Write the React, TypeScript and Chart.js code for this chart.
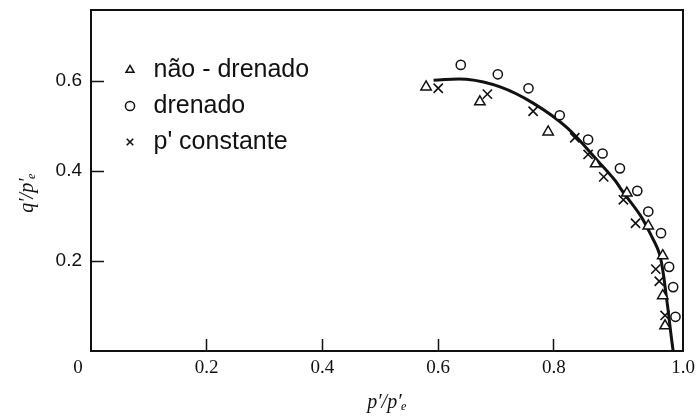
import React, { useEffect, useRef } from 'react';
import { Chart, registerables } from 'chart.js';

Chart.register(...registerables);

// não - drenado (triangles)
const undrainedX = [0.579, 0.672, 0.790, 0.872, 0.926, 0.963, 0.988, 0.988, 0.992];
const undrainedY = [0.587, 0.554, 0.487, 0.416, 0.351, 0.278, 0.212, 0.123, 0.056];
// drenado (circles)
const drainedX = [0.639, 0.703, 0.756, 0.810, 0.859, 0.884, 0.914, 0.944, 0.963, 0.985, 0.999, 1.006, 1.010];
const drainedY = [0.636, 0.615, 0.584, 0.524, 0.470, 0.439, 0.406, 0.356, 0.310, 0.262, 0.187, 0.142, 0.076];
// p' constante (crosses)
const constPX = [0.600, 0.685, 0.764, 0.836, 0.859, 0.886, 0.920, 0.941, 0.976, 0.982, 0.992];
const constPY = [0.584, 0.571, 0.533, 0.474, 0.437, 0.387, 0.336, 0.284, 0.182, 0.155, 0.079];
// fitted curve
const curveX = [0.592, 0.649, 0.707, 0.764, 0.822, 0.879, 0.905, 0.919, 0.949, 0.966, 0.983, 0.995, 1.003, 1.006];
const curveY = [0.602, 0.604, 0.587, 0.551, 0.497, 0.418, 0.380, 0.354, 0.302, 0.262, 0.213, 0.113, 0.029, 0.0];

const seriesLabels = ['não - drenado', 'drenado', "p' constante"];

const xTickValues = [0, 0.2, 0.4, 0.6, 0.8, 1.0];
const xTickLabels = ['0', '0.2', '0.4', '0.6', '0.8', '1.0'];
const yTickValues = [0.2, 0.4, 0.6];
const yTickLabels = ['0.2', '0.4', '0.6'];

const X_MIN = 0;
const X_MAX = 1.023;
const Y_MIN = 0;
const Y_MAX = 0.758;

const INK = '#111';

function pts(xs: number[], ys: number[]) {
  return xs.map((x, i) => ({ x, y: ys[i] }));
}

// corner labels ("0" and "1.0") sit at the outer corners of the frame
function xLabelPos(v: number) {
  if (v === X_MIN) return X_MIN - 0.0225;
  if (v === 1.0) return X_MAX;
  return v;
}

function fixSize(prop: 'width' | 'height', size: number) {
  return (s: any) => {
    s[prop] = size;
    s.paddingTop = 0;
    s.paddingBottom = 0;
    s.paddingLeft = 0;
    s.paddingRight = 0;
  };
}

const legendPlacement = {
  id: 'legendPlacement',
  afterLayout(chart: any) {
    const lg = chart.legend;
    if (!lg) return;
    const a = chart.chartArea;
    lg.left = a.left + 17;
    lg.top = a.top + 36.5;
    lg.right = a.right;
    lg.bottom = a.bottom;
  },
};

export default function App() {
  const ref = useRef<HTMLCanvasElement>(null);

  useEffect(() => {
    const canvas = ref.current;
    if (!canvas) return;
    const chart = new Chart(canvas, {
      type: 'scatter',
      data: {
        datasets: [
          {
            label: seriesLabels[0],
            data: pts(undrainedX, undrainedY),
            pointStyle: 'triangle',
            pointRadius: 6,
            borderColor: INK,
            backgroundColor: '#fff',
            borderWidth: 1.5,
            order: 1,
          },
          {
            label: seriesLabels[1],
            data: pts(drainedX, drainedY),
            pointStyle: 'circle',
            pointRadius: 4.6,
            borderColor: INK,
            backgroundColor: '#fff',
            borderWidth: 1.5,
            order: 2,
          },
          {
            label: seriesLabels[2],
            data: pts(constPX, constPY),
            pointStyle: 'crossRot',
            pointRadius: 6.5,
            borderColor: INK,
            backgroundColor: INK,
            borderWidth: 1.6,
            order: 3,
          },
          {
            label: 'curva',
            data: pts(curveX, curveY),
            showLine: true,
            pointRadius: 0,
            borderColor: INK,
            borderWidth: 3,
            tension: 0.35,
            order: 4,
          },
        ],
      },
      options: {
        responsive: false,
        animation: false,
        devicePixelRatio: 1,
        layout: { padding: 0 },
        plugins: {
          tooltip: { enabled: false },
          legend: {
            position: 'chartArea',
            align: 'start',
            labels: {
              usePointStyle: true,
              boxWidth: 22,
              boxHeight: 6.5,
              padding: 11,
              color: INK,
              font: { family: 'Liberation Sans', size: 25 },
              filter: (item: any) => item.datasetIndex !== 3,
            },
          },
        },
        scales: {
          x: {
            type: 'linear',
            position: 'bottom',
            min: X_MIN,
            max: X_MAX,
            afterBuildTicks: (axis: any) => {
              axis.ticks = xTickValues.map((v) => ({ value: xLabelPos(v) }));
            },
            afterFit: fixSize('height', 65),
            border: { display: true, color: INK, width: 2 },
            grid: {
              display: true,
              drawOnChartArea: false,
              drawTicks: true,
              tickLength: -12,
              tickWidth: 1.5,
              color: 'rgba(0,0,0,0)',
              tickColor: (ctx: any) =>
                ctx.index === 0 || ctx.index === xTickValues.length - 1 ? 'rgba(0,0,0,0)' : INK,
            },
            ticks: {
              autoSkip: false,
              maxRotation: 0,
              padding: 18,
              color: INK,
              font: { family: 'Liberation Serif', size: 19 },
              callback: (_v: any, i: number) => xTickLabels[i],
            },
            title: {
              display: true,
              text: 'p′/p′ₑ',
              color: INK,
              font: { family: 'Liberation Serif', style: 'italic', size: 20 },
              padding: { top: 0, bottom: 1 },
            },
          },
          y: {
            type: 'linear',
            position: 'left',
            min: Y_MIN,
            max: Y_MAX,
            afterBuildTicks: (axis: any) => {
              axis.ticks = yTickValues.map((v) => ({ value: v }));
            },
            afterFit: fixSize('width', 91),
            border: { display: true, color: INK, width: 2 },
            grid: {
              display: true,
              drawOnChartArea: false,
              drawTicks: true,
              tickLength: -13,
              tickWidth: 1.5,
              color: 'rgba(0,0,0,0)',
              tickColor: INK,
            },
            ticks: {
              autoSkip: false,
              padding: 22,
              color: INK,
              font: { family: 'Liberation Sans', size: 19 },
              callback: (_v: any, i: number) => yTickLabels[i],
            },
            title: {
              display: true,
              text: 'q′/p′ₑ\u00a0\u00a0\u00a0\u00a0\u00a0',
              color: INK,
              font: { family: 'Liberation Serif', style: 'italic', size: 20 },
              padding: { top: 16, bottom: 0 },
            },
          },
          xTop: {
            type: 'linear',
            position: 'top',
            min: 0,
            max: 1,
            afterFit: fixSize('height', 10),
            border: { display: true, color: INK, width: 2 },
            grid: { display: true, drawOnChartArea: false, drawTicks: false, color: 'rgba(0,0,0,0)' },
            ticks: { display: false },
          },
          yRight: {
            type: 'linear',
            position: 'right',
            min: 0,
            max: 1,
            afterFit: fixSize('width', 17),
            border: { display: true, color: INK, width: 2 },
            grid: { display: true, drawOnChartArea: false, drawTicks: false, color: 'rgba(0,0,0,0)' },
            ticks: { display: false },
          },
        },
      } as any,
      plugins: [legendPlacement],
    });
    return () => chart.destroy();
  }, []);

  return (
    <div style={{ position: 'absolute', left: 0, top: 0, width: 700, height: 416, background: '#fff' }}>
      <canvas ref={ref} width={700} height={416} style={{ display: 'block', width: 700, height: 416 }} />
    </div>
  );
}
